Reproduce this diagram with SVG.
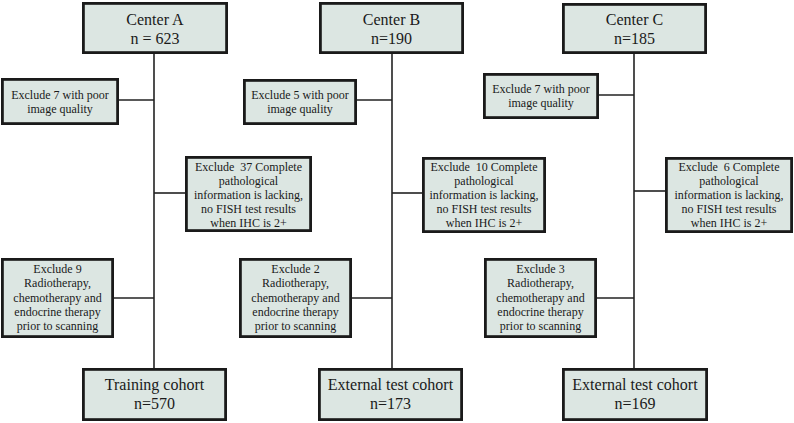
<svg xmlns="http://www.w3.org/2000/svg" width="794" height="423" viewBox="0 0 794 423">
  <style>
    .box { fill: #dce6e2; stroke: #1a1a1a; stroke-width: 2.8; }
    .conn { stroke: #222; stroke-width: 1.6; fill: none; }
    text { font-family: 'Liberation Serif', Tinos, 'Times New Roman', Times, 'DejaVu Serif', serif; fill: #1a1a1a; text-anchor: middle; }
    .big { font-size: 16px; }
    .small { font-size: 12px; }
  </style>

  <!-- connectors: one trunk per center plus branches to the exclusion boxes -->
  <g id="connectors">
    <line class="conn" x1="154" y1="54" x2="154" y2="368"/>
    <line class="conn" x1="119" y1="100" x2="154" y2="100"/>
    <line class="conn" x1="154" y1="193" x2="185" y2="193"/>
    <line class="conn" x1="114" y1="298" x2="154" y2="298"/>

    <line class="conn" x1="392" y1="54" x2="392" y2="368"/>
    <line class="conn" x1="357" y1="100" x2="392" y2="100"/>
    <line class="conn" x1="392" y1="193" x2="422" y2="193"/>
    <line class="conn" x1="352" y1="298" x2="392" y2="298"/>

    <line class="conn" x1="634" y1="54" x2="634" y2="368"/>
    <line class="conn" x1="599" y1="95" x2="634" y2="95"/>
    <line class="conn" x1="634" y1="191" x2="665" y2="191"/>
    <line class="conn" x1="597" y1="298" x2="634" y2="298"/>
  </g>

  <!-- Center A column -->
  <g id="centerA">
    <rect class="box" x="83.4" y="3.4" width="143.2" height="49.2"/>
    <text class="big" x="155" y="25">Center A</text>
    <text class="big" x="155" y="44">n = 623</text>
  </g>
  <g id="excludeA1">
    <rect class="box" x="2.4" y="79.4" width="115.2" height="44.2"/>
    <text class="small" x="60" y="99">Exclude 7 with poor</text>
    <text class="small" x="60" y="113">image quality</text>
  </g>
  <g id="excludeA2">
    <rect class="box" x="186.4" y="157.4" width="124.2" height="73.2"/>
    <text class="small" x="248.5" y="171" xml:space="preserve">Exclude  37 Complete</text>
    <text class="small" x="248.5" y="185">pathological</text>
    <text class="small" x="248.5" y="199">information is lacking,</text>
    <text class="small" x="248.5" y="213">no FISH test results</text>
    <text class="small" x="248.5" y="227">when IHC is 2+</text>
  </g>
  <g id="excludeA3">
    <rect class="box" x="2.4" y="259.4" width="110.2" height="77.2"/>
    <text class="small" x="57.5" y="273">Exclude 9</text>
    <text class="small" x="57.5" y="287">Radiotherapy,</text>
    <text class="small" x="57.5" y="302">chemotherapy and</text>
    <text class="small" x="57.5" y="316">endocrine therapy</text>
    <text class="small" x="57.5" y="330">prior to scanning</text>
  </g>
  <g id="trainingCohort">
    <rect class="box" x="83.4" y="369.4" width="142.2" height="50.2"/>
    <text class="big" x="154.5" y="390">Training cohort</text>
    <text class="big" x="154.5" y="409">n=570</text>
  </g>

  <!-- Center B column -->
  <g id="centerB">
    <rect class="box" x="320.4" y="3.4" width="142.2" height="49.2"/>
    <text class="big" x="391.5" y="25">Center B</text>
    <text class="big" x="391.5" y="44">n=190</text>
  </g>
  <g id="excludeB1">
    <rect class="box" x="244.4" y="80.4" width="111.2" height="43.2"/>
    <text class="small" x="300" y="99">Exclude 5 with poor</text>
    <text class="small" x="300" y="113">image quality</text>
  </g>
  <g id="excludeB2">
    <rect class="box" x="423.4" y="158.4" width="121.2" height="73.2"/>
    <text class="small" x="484" y="171" xml:space="preserve">Exclude  10 Complete</text>
    <text class="small" x="484" y="185">pathological</text>
    <text class="small" x="484" y="199">information is lacking,</text>
    <text class="small" x="484" y="213">no FISH test results</text>
    <text class="small" x="484" y="227">when IHC is 2+</text>
  </g>
  <g id="excludeB3">
    <rect class="box" x="240.4" y="259.4" width="110.2" height="77.2"/>
    <text class="small" x="295.5" y="273">Exclude 2</text>
    <text class="small" x="295.5" y="287">Radiotherapy,</text>
    <text class="small" x="295.5" y="302">chemotherapy and</text>
    <text class="small" x="295.5" y="316">endocrine therapy</text>
    <text class="small" x="295.5" y="330">prior to scanning</text>
  </g>
  <g id="externalCohortB">
    <rect class="box" x="319.4" y="369.4" width="142.2" height="50.2"/>
    <text class="big" x="390.5" y="390">External test cohort</text>
    <text class="big" x="390.5" y="409">n=173</text>
  </g>

  <!-- Center C column -->
  <g id="centerC">
    <rect class="box" x="563.4" y="4.4" width="142.2" height="48.2"/>
    <text class="big" x="634.5" y="25">Center C</text>
    <text class="big" x="634.5" y="44">n=185</text>
  </g>
  <g id="excludeC1">
    <rect class="box" x="484.4" y="74.4" width="113.2" height="43.2"/>
    <text class="small" x="541" y="93">Exclude 7 with poor</text>
    <text class="small" x="541" y="107">image quality</text>
  </g>
  <g id="excludeC2">
    <rect class="box" x="666.4" y="158.4" width="125.2" height="73.2"/>
    <text class="small" x="729" y="171" xml:space="preserve">Exclude  6 Complete</text>
    <text class="small" x="729" y="185">pathological</text>
    <text class="small" x="729" y="199">information is lacking,</text>
    <text class="small" x="729" y="213">no FISH test results</text>
    <text class="small" x="729" y="227">when IHC is 2+</text>
  </g>
  <g id="excludeC3">
    <rect class="box" x="485.4" y="259.4" width="110.2" height="77.2"/>
    <text class="small" x="540.5" y="273">Exclude 3</text>
    <text class="small" x="540.5" y="287">Radiotherapy,</text>
    <text class="small" x="540.5" y="302">chemotherapy and</text>
    <text class="small" x="540.5" y="316">endocrine therapy</text>
    <text class="small" x="540.5" y="330">prior to scanning</text>
  </g>
  <g id="externalCohortC">
    <rect class="box" x="563.4" y="369.4" width="143.2" height="50.2"/>
    <text class="big" x="635" y="390">External test cohort</text>
    <text class="big" x="635" y="409">n=169</text>
  </g>
</svg>
